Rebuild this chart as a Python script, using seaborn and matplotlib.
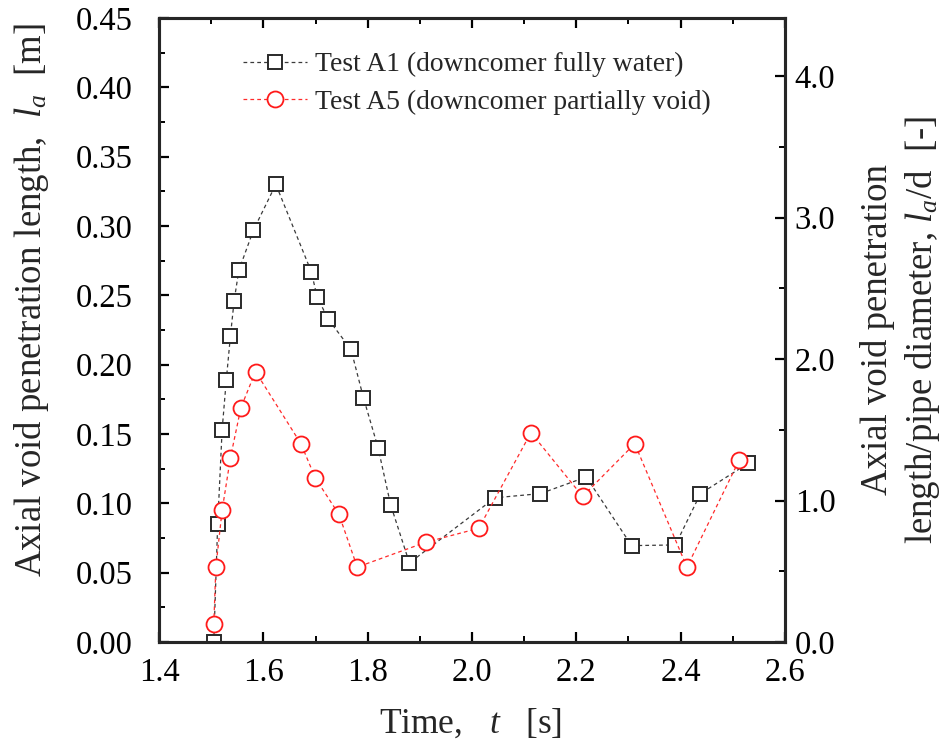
import numpy as np
import pandas as pd
import matplotlib
matplotlib.use("Agg")
import matplotlib.pyplot as plt
import seaborn as sns
from matplotlib.ticker import MultipleLocator, FormatStrFormatter

# ---------------- data ----------------
t_a1 = [1.505, 1.5125, 1.521, 1.529, 1.537, 1.544, 1.553, 1.581, 1.624,
        1.692, 1.703, 1.724, 1.768, 1.792, 1.820, 1.844, 1.880, 2.044,
        2.131, 2.219, 2.306, 2.390, 2.438, 2.530]
la_a1 = [0.000, 0.085, 0.153, 0.189, 0.221, 0.246, 0.268, 0.297, 0.330,
         0.267, 0.249, 0.233, 0.211, 0.176, 0.140, 0.099, 0.057, 0.104,
         0.107, 0.119, 0.0695, 0.070, 0.107, 0.129]

t_a5 = [1.505, 1.509, 1.521, 1.537, 1.557, 1.585, 1.672, 1.700, 1.745,
        1.780, 1.912, 2.013, 2.113, 2.212, 2.312, 2.412, 2.512]
la_a5 = [0.013, 0.054, 0.095, 0.133, 0.169, 0.195, 0.143, 0.118, 0.092,
         0.054, 0.072, 0.082, 0.151, 0.105, 0.143, 0.054, 0.131]

label_a1 = "Test A1 (downcomer fully water)"
label_a5 = "Test A5 (downcomer partially void)"
pipe_d = 0.102  # m, for the secondary axis scale

df1 = pd.DataFrame({"t": t_a1, "la": la_a1})
df5 = pd.DataFrame({"t": t_a5, "la": la_a5})

# ---------------- style ----------------
sns.set_theme(style="ticks")
plt.rcParams["font.family"] = ["Liberation Serif", "DejaVu Serif"]
plt.rcParams["mathtext.fontset"] = "custom"
plt.rcParams["mathtext.rm"] = "Liberation Serif"
plt.rcParams["mathtext.it"] = "Liberation Serif:italic"
plt.rcParams["axes.linewidth"] = 2.2

fig = plt.figure(figsize=(9.53, 7.45), dpi=100)
ax = fig.add_axes([159/953, 1-642/745, (785-159)/953, (642-18)/745])

line_kws = dict(lw=0.9, dashes=(3, 2.5), sort=False, estimator=None)
sns.lineplot(data=df1, x="t", y="la", ax=ax, color="#3a3a3a", marker="s",
             markersize=10, markerfacecolor="white", markeredgecolor="#2a2a2a",
             markeredgewidth=1.4, label=label_a1, zorder=3, **line_kws)
sns.lineplot(data=df5, x="t", y="la", ax=ax, color="#ff2a2a", marker="o",
             markersize=11.5, markerfacecolor="white", markeredgecolor="#ff1a1a",
             markeredgewidth=1.3, label=label_a5, zorder=4, **line_kws)

ax.set_xlim(1.4, 2.6)
ax.set_ylim(0, 0.45)
ax.xaxis.set_major_locator(MultipleLocator(0.2))
ax.xaxis.set_minor_locator(MultipleLocator(0.1))
ax.yaxis.set_major_locator(MultipleLocator(0.05))
ax.yaxis.set_minor_locator(MultipleLocator(0.025))
ax.xaxis.set_major_formatter(FormatStrFormatter("%.1f"))
ax.yaxis.set_major_formatter(FormatStrFormatter("%.2f"))

fs = 23.5
fl = 26.5
ax.tick_params(axis="both", which="both", direction="in", top=True,
               right=False, colors="black")
ax.tick_params(axis="both", which="major", length=7, width=1.6, labelsize=fs)
ax.tick_params(axis="both", which="minor", length=4.3, width=1.4)
ax.tick_params(axis="x", which="major", pad=11)
ax.tick_params(axis="y", which="major", pad=19)

ax2 = ax.twinx()
ax2.set_ylim(0, 0.45 / pipe_d)
ax2.yaxis.set_major_locator(MultipleLocator(1.0))
ax2.yaxis.set_minor_locator(MultipleLocator(0.5))
ax2.yaxis.set_major_formatter(FormatStrFormatter("%.1f"))
ax2.tick_params(axis="y", which="both", direction="in", colors="black")
ax2.tick_params(axis="y", which="major", length=7, width=1.6, labelsize=fs, pad=7)
ax2.tick_params(axis="y", which="minor", length=4.3, width=1.4)
for sp in ax2.spines.values():
    sp.set_linewidth(2.2)

ax.set_xlabel(r"Time,   $t$   [s]", fontsize=25.5)
ax.set_ylabel(r"Axial void penetration length,  $l_a$  [m]", fontsize=fl)
ax2.set_ylabel("Axial void penetration\n" + r"length/pipe diameter, $l_a$/d  [-]",
               fontsize=fl, linespacing=1.3)

ax.xaxis.set_label_coords(0.498, -0.132)
ax.xaxis.label.set(va="center", ha="center")
ax.yaxis.set_label_coords((31.5-159)/626, 0.548)
ax.yaxis.label.set(va="center", ha="center")
ax2.yaxis.set_label_coords((901-159)/626, 0.5)
ax2.yaxis.label.set(va="center", ha="center", rotation=90)

leg = ax.legend(loc="upper left", bbox_to_anchor=((243-159)/626, (642-52)/624),
                frameon=False, fontsize=19.9, handlelength=2.3,
                handletextpad=0.3, labelspacing=0.45, borderpad=0,
                borderaxespad=0)

fig.savefig("out.png", dpi=100)
